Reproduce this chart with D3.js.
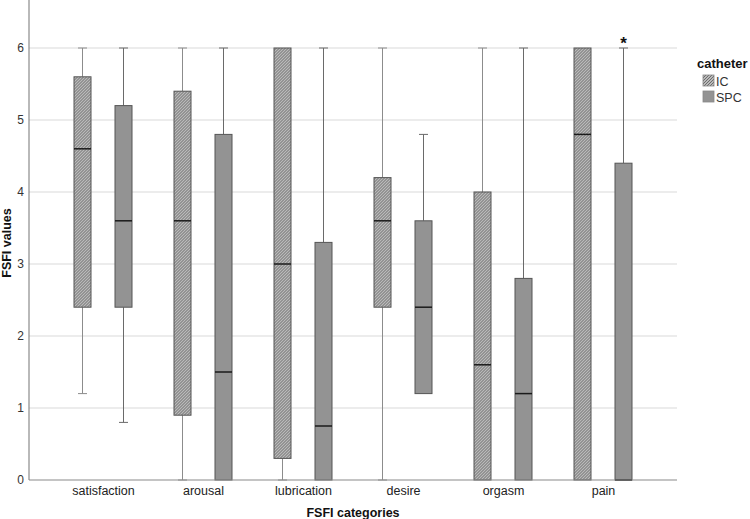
<!DOCTYPE html>
<html>
<head>
<meta charset="utf-8">
<script src="https://cdn.jsdelivr.net/npm/d3@7"></script>
<style>
  html, body { margin: 0; padding: 0; background: #fff; }
  svg { display: block; font-family: "Liberation Sans", Arial, sans-serif; }
</style>
</head>
<body>
<svg id="chart" width="750" height="519"></svg>
<script>
// ---- data ----
const categories = ["satisfaction", "arousal", "lubrication", "desire", "orgasm", "pain"];
const groups = ["IC", "SPC"];
const yTicks = [0, 1, 2, 3, 4, 5, 6];

const icMin = [1.2, 0, 0, 0, 0, 0];
const icQ1  = [2.4, 0.9, 0.3, 2.4, 0, 0];
const icMed = [4.6, 3.6, 3.0, 3.6, 1.6, 4.8];
const icQ3  = [5.6, 5.4, 6, 4.2, 4.0, 6];
const icMax = [6, 6, 6, 6, 6, 6];

const spcMin = [0.8, 0, 0, 1.2, 0, 0];
const spcQ1  = [2.4, 0, 0, 1.2, 0, 0];
const spcMed = [3.6, 1.5, 0.75, 2.4, 1.2, 0];
const spcQ3  = [5.2, 4.8, 3.3, 3.6, 2.8, 4.4];
const spcMax = [6, 6, 6, 4.8, 6, 6];

const outlierCats = ["pain"];
const outlierGroups = ["SPC"];
const outlierValues = [6];

(function () {
// ---- build ----
const boxes = [];
categories.forEach((c, i) => {
  boxes.push({cat: c, group: "IC", min: icMin[i], q1: icQ1[i], med: icMed[i], q3: icQ3[i], max: icMax[i]});
  boxes.push({cat: c, group: "SPC", min: spcMin[i], q1: spcQ1[i], med: spcMed[i], q3: spcQ3[i], max: spcMax[i]});
});

const svg = d3.select("#chart");
const pL = 29, pR = 677, pT = 0, pB = 480;

const x = d3.scalePoint().domain(categories).range([pL, pR]).padding(0.74);
const xg = d3.scalePoint().domain(groups).range([-20.5, 20.5]);
const y = d3.scaleLinear().domain([0, 20 / 3]).range([pB, pT]);
const boxW = 17, capW = 9;

// hatch pattern
const defs = svg.append("defs");
const pat = defs.append("pattern")
  .attr("id", "hatch").attr("patternUnits", "userSpaceOnUse")
  .attr("width", 3).attr("height", 3);
pat.append("rect").attr("width", 3).attr("height", 3).attr("fill", "#dcdcdc");
pat.append("path").attr("d", "M-1,1 l2,-2 M0,3 l3,-3 M2,4 l2,-2")
  .attr("stroke", "#666").attr("stroke-width", 1.1);

const fillOf = g => g === "IC" ? "url(#hatch)" : "#939393";
const whiskCol = g => g === "IC" ? "#8c8c8c" : "#6a6a6a";

// grid
svg.append("g").selectAll("line")
  .data(yTicks.filter(t => t > 0))
  .join("line")
  .attr("x1", pL).attr("x2", pR)
  .attr("y1", d => y(d)).attr("y2", d => y(d))
  .attr("stroke", "#d9d9d9").attr("stroke-width", 1);

// y axis
const yAxis = svg.append("g").attr("transform", `translate(${pL},0)`)
  .call(d3.axisLeft(y).tickValues(yTicks).tickSize(0).tickPadding(5).tickFormat(d3.format("d")));
yAxis.select(".domain").remove();
yAxis.selectAll("text").attr("font-size", 12).attr("fill", "#333")
  .style("font-family", "'Liberation Sans', Arial, sans-serif");
svg.append("line").attr("x1", pL).attr("x2", pL).attr("y1", pT).attr("y2", pB)
  .attr("stroke", "#8a8a8a").attr("stroke-width", 1.2);

// x axis
const xAxis = svg.append("g").attr("transform", `translate(0,${pB})`)
  .call(d3.axisBottom(x).tickSize(0).tickPadding(6));
xAxis.select(".domain").remove();
xAxis.selectAll("text").attr("font-size", 12.5).attr("fill", "#222")
  .style("font-family", "'Liberation Sans', Arial, sans-serif");

// boxes
const bg = svg.append("g").selectAll("g").data(boxes).join("g")
  .attr("transform", d => `translate(${x(d.cat) + xg(d.group)},0)`);

// whiskers
bg.filter(d => d.max > d.q3).append("line")
  .attr("x1", 0).attr("x2", 0).attr("y1", d => y(d.q3)).attr("y2", d => y(d.max))
  .attr("stroke", d => whiskCol(d.group)).attr("stroke-width", 1);
bg.filter(d => d.max > d.q3).append("line")
  .attr("x1", -capW / 2).attr("x2", capW / 2).attr("y1", d => y(d.max)).attr("y2", d => y(d.max))
  .attr("stroke", d => whiskCol(d.group)).attr("stroke-width", 1);
bg.filter(d => d.min < d.q1).append("line")
  .attr("x1", 0).attr("x2", 0).attr("y1", d => y(d.q1)).attr("y2", d => y(d.min))
  .attr("stroke", d => whiskCol(d.group)).attr("stroke-width", 1);
bg.filter(d => d.min < d.q1).append("line")
  .attr("x1", -capW / 2).attr("x2", capW / 2).attr("y1", d => y(d.min)).attr("y2", d => y(d.min))
  .attr("stroke", d => whiskCol(d.group)).attr("stroke-width", 1);

// box rect
bg.append("rect")
  .attr("x", -boxW / 2).attr("width", boxW)
  .attr("y", d => y(d.q3)).attr("height", d => y(d.q1) - y(d.q3))
  .attr("fill", d => fillOf(d.group))
  .attr("stroke", "#555").attr("stroke-width", 1);

// median
bg.append("line")
  .attr("x1", -boxW / 2).attr("x2", boxW / 2)
  .attr("y1", d => y(d.med)).attr("y2", d => y(d.med))
  .attr("stroke", "#1a1a1a").attr("stroke-width", 1.5);

// bottom axis line (drawn over boxes)
svg.append("line").attr("x1", pL).attr("x2", pR).attr("y1", pB).attr("y2", pB)
  .attr("stroke", "#8a8a8a").attr("stroke-width", 1.2);

// outliers
svg.append("g").selectAll("text").data(outlierValues).join("text")
  .attr("x", (d, i) => x(outlierCats[i]) + xg(outlierGroups[i]))
  .attr("y", d => y(d) + 1)
  .attr("text-anchor", "middle")
  .attr("font-size", 17).attr("font-weight", "bold").attr("fill", "#111")
  .text("*");

// axis titles
svg.append("text").attr("x", (pL + pR) / 2).attr("y", 517)
  .attr("text-anchor", "middle").attr("font-size", 12.5).attr("font-weight", "bold").attr("fill", "#111")
  .text("FSFI categories");
svg.append("text").attr("transform", `translate(11,${(pT + pB) / 2 + 3}) rotate(-90)`)
  .attr("text-anchor", "middle").attr("font-size", 12.5).attr("font-weight", "bold").attr("fill", "#111")
  .text("FSFI values");

// legend
const lg = svg.append("g").attr("transform", "translate(697,0)");
lg.append("text").attr("x", 0).attr("y", 68).attr("font-size", 13).attr("font-weight", "bold").attr("fill", "#111")
  .text("catheter");
const li = lg.selectAll("g.item").data(groups).join("g").attr("class", "item")
  .attr("transform", (d, i) => `translate(6,${75 + i * 16})`);
li.append("rect").attr("width", 11).attr("height", 11)
  .attr("fill", d => fillOf(d)).attr("stroke", "#888").attr("stroke-width", 0.8);
li.append("text").attr("x", 13).attr("y", 10.5).attr("font-size", 12.5).attr("fill", "#333")
  .text(d => d);
})();
</script>
</body>
</html>
